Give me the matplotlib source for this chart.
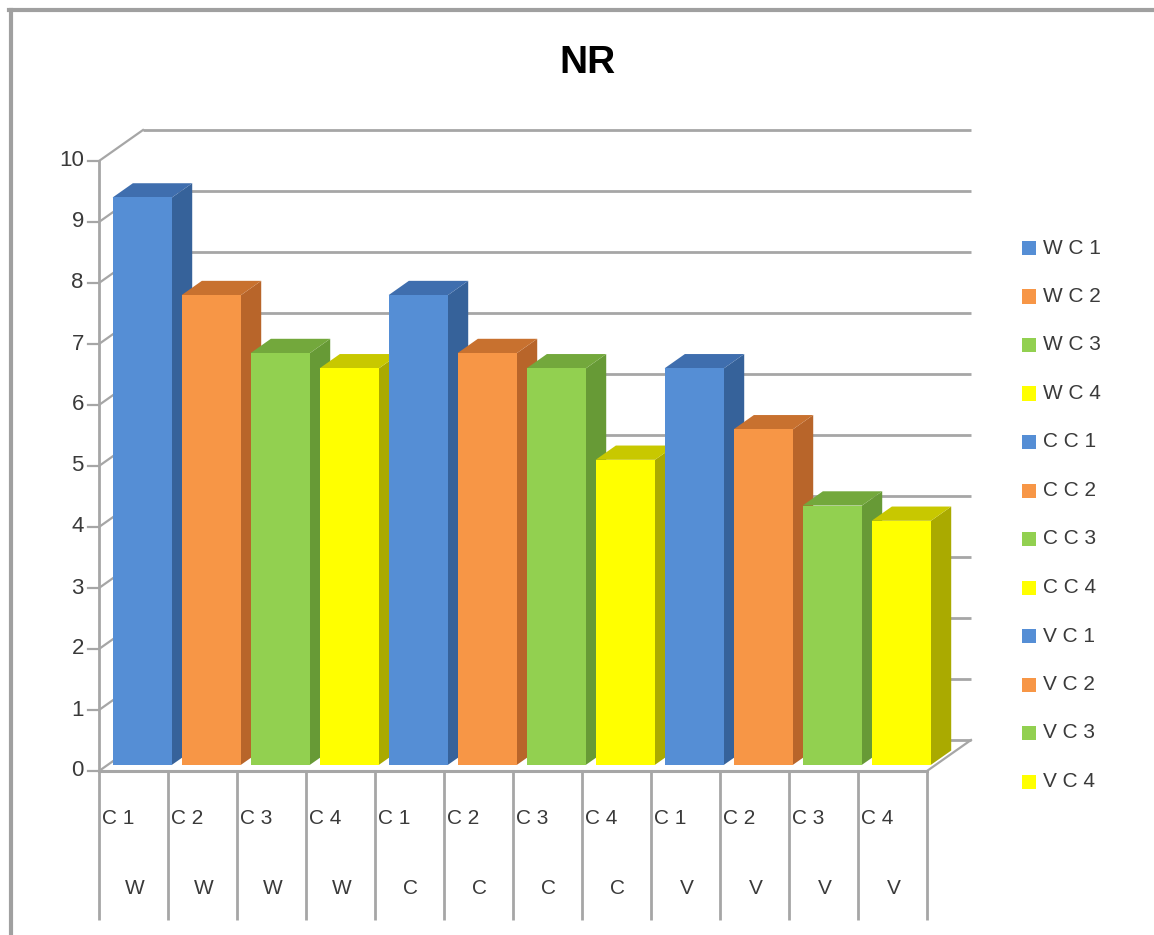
import matplotlib
matplotlib.use("Agg")
import matplotlib.pyplot as plt
from matplotlib.patches import Polygon, Rectangle
from matplotlib.lines import Line2D

# ---- data -------------------------------------------------------------
groups = ["W", "C", "V"]
subgroups = ["C 1", "C 2", "C 3", "C 4"]
nr_W = [9.3, 7.7, 6.75, 6.5]
nr_C = [7.7, 6.75, 6.5, 5.0]
nr_V = [6.5, 5.5, 4.25, 4.0]
y_ticks = [0, 1, 2, 3, 4, 5, 6, 7, 8, 9, 10]
title = "NR"

values = nr_W + nr_C + nr_V
cat_sub = subgroups * len(groups)
cat_grp = [g for g in groups for _ in subgroups]
legend_labels = [f"{g} {s}" for g in groups for s in subgroups]

# face colours (front, side, top) for C 1 .. C 4
front_cols = ["#558ED5", "#F79646", "#92D050", "#FFFF00"]
side_cols = ["#36629A", "#B8652A", "#679A36", "#AAAA00"]
top_cols = ["#3F6EAE", "#C8712F", "#73A83C", "#C8C800"]

# ---- figure / scales ----------------------------------------------------
W_PX, H_PX = 1154, 935
fig = plt.figure(figsize=(W_PX / 100, H_PX / 100), dpi=100)
ax = fig.add_axes([0, 0, 1, 1])
x0_px, y0_px = 99, 771          # origin of the front plane
ux, uy = 69.0, 61.0             # pixels per category / per value unit
ax.set_xlim(-x0_px / ux, (W_PX - x0_px) / ux)
ax.set_ylim(-(H_PX - y0_px) / uy, y0_px / uy)
ax.axis("off")

FONT = "Liberation Sans"
GRID = "#A6A6A6"
TXT = "#3A3A3A"
n = len(values)
DX, DY = 44 / ux, 31 / uy       # full depth of the floor
ymax = y_ticks[-1]

# back wall gridlines
for t in y_ticks:
    ax.plot([DX, n + DX], [t + DY, t + DY], color=GRID, lw=2, zorder=1,
            solid_capstyle="butt")
    # left wall diagonals
    ax.plot([0, DX], [t, t + DY], color=GRID, lw=1.6, zorder=1)
    # tick marks
    ax.plot([-0.16, 0], [t, t], color=GRID, lw=1.6, zorder=1)
    ax.text(-0.22, t, str(t), ha="right", va="center", fontsize=16,
            family=FONT, color=TXT)

# floor edges and value axis
ax.plot([0, n], [0, 0], color=GRID, lw=2.2, zorder=1)
ax.plot([n, n + DX], [0, DY], color=GRID, lw=1.6, zorder=1)
ax.plot([0, 0], [0, ymax], color=GRID, lw=2, zorder=1)

# 3-D style columns
f0, depth = 0.2, 0.46
width = 0.86
for i, v in enumerate(values):
    k = i % len(subgroups)
    xa = i + 0.5 - width / 2 + f0 * DX
    xb = xa + width
    b = f0 * DY
    ddx, ddy = depth * DX, depth * DY
    side = [(xb, b), (xb + ddx, b + ddy), (xb + ddx, b + v + ddy), (xb, b + v)]
    top = [(xa, b + v), (xb, b + v), (xb + ddx, b + v + ddy), (xa + ddx, b + v + ddy)]
    z = 3 + i
    ax.add_patch(Polygon(side, closed=True, fc=side_cols[k], ec="none", zorder=z))
    ax.add_patch(Polygon(top, closed=True, fc=top_cols[k], ec="none", zorder=z))
    ax.add_patch(Rectangle((xa, b), width, v, fc=front_cols[k], ec="none", zorder=z))

# category table under the axis
tbl_bottom = -(920 - y0_px) / uy
for i in range(n + 1):
    ax.plot([i, i], [0, tbl_bottom], color=GRID, lw=2, zorder=1,
            solid_capstyle="butt")
for i in range(n):
    ax.text(i + 0.04, -(818 - y0_px) / uy, cat_sub[i], ha="left", va="center",
            fontsize=15, family=FONT, color=TXT)
    ax.text(i + 0.52, -(889 - y0_px) / uy, cat_grp[i], ha="center", va="center",
            fontsize=15, family=FONT, color=TXT)

# title
fig.text(588 / W_PX, 1 - 63 / H_PX, title, ha="center", va="center",
         fontsize=28, fontweight="bold", family=FONT, color="black")

# legend
for j, lab in enumerate(legend_labels):
    yc = 248 + j * 48.5
    k = j % len(subgroups)
    fig.patches.append(Rectangle((1022 / W_PX, 1 - (yc + 7) / H_PX),
                                 14 / W_PX, 14 / H_PX, fc=front_cols[k], ec="none",
                                 transform=fig.transFigure, figure=fig))
    fig.text(1043 / W_PX, 1 - yc / H_PX, lab, ha="left", va="center",
             fontsize=15, family=FONT, color=TXT)

# outer frame (left and top edges)
fig.lines.append(Line2D([10.5 / W_PX, 10.5 / W_PX], [0, 1 - 10 / H_PX],
                        color="#A0A0A0", lw=3, transform=fig.transFigure))
fig.lines.append(Line2D([9 / W_PX, 1], [1 - 10 / H_PX, 1 - 10 / H_PX],
                        color="#A0A0A0", lw=3, transform=fig.transFigure))

fig.savefig("out.png", dpi=100)
